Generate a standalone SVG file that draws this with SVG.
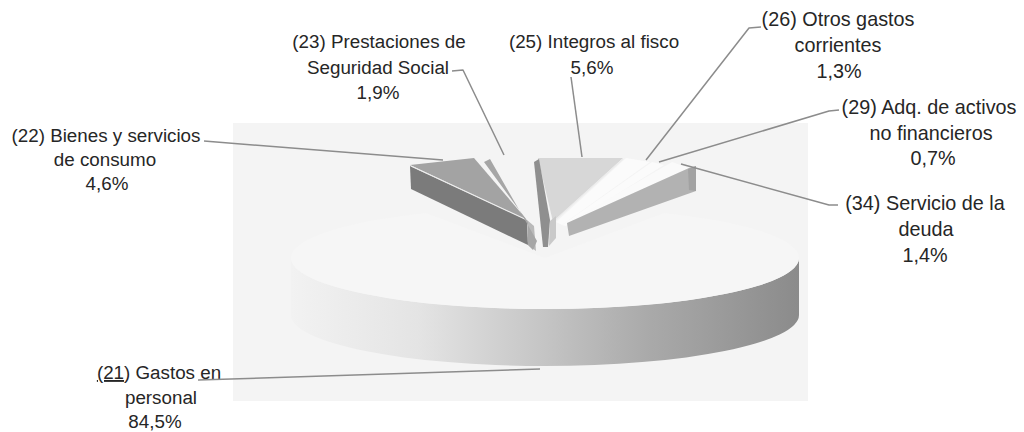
<svg xmlns="http://www.w3.org/2000/svg" width="1024" height="432" viewBox="0 0 1024 432">
  <defs>
    <style>
      .lbl { font-family: "Liberation Sans", Arial, sans-serif; font-size: 18.8px; fill: #262626; text-anchor: middle; }
      .lblr { font-size: 19.8px; }
      .leader { fill: none; stroke: #8c8c8c; stroke-width: 1.5; stroke-linejoin: round; }
      .hl { fill: none; stroke: #ececec; stroke-width: 1.2; }
    </style>
    <linearGradient id="sideGrad" x1="291" y1="0" x2="799" y2="0" gradientUnits="userSpaceOnUse">
      <stop offset="0" stop-color="#f2f2f2"/>
      <stop offset="0.25" stop-color="#e4e4e4"/>
      <stop offset="0.45" stop-color="#cbcbcb"/>
      <stop offset="0.7" stop-color="#aaaaaa"/>
      <stop offset="1" stop-color="#8b8b8b"/>
    </linearGradient>
  </defs>
  <rect width="1024" height="432" fill="#ffffff"/>
  <rect id="plot-area" x="233" y="123" width="575" height="278" fill="#f4f4f4"/>

  <g id="slice-21">
    <path d="M291,258 A254 51 0 0 0 799,258 L799,315 A254 51 0 0 1 291,315 Z" fill="url(#sideGrad)"/>
    <path d="M545,258 L664,213 A254 51 0 1 1 426,213 Z" fill="#f6f6f6"/>
    <text class="lbl" x="159" y="379"><tspan text-decoration="underline">(21</tspan>) Gastos en</text>
    <text class="lbl" x="161" y="404">personal</text>
    <text class="lbl" x="155" y="428">84,5%</text>
  </g>

  <g id="slice-22">
    <path d="M410,165 L474,158 L527,220 Z" fill="#a3a3a3"/>
    <path d="M410,166 L527,220 L528,245 L411,189 Z" fill="#7b7b7b"/>
    <path class="hl" d="M411,166 L527,220"/>
    <path d="M527,220 L534,226 L536,251 L528,245 Z" fill="#b9b9b9"/>
    <text class="lbl" x="106" y="142">(22) Bienes y servicios</text>
    <text class="lbl" x="105" y="166">de consumo</text>
    <text class="lbl" x="107" y="190">4,6%</text>
  </g>

  <g id="slice-23">
    <path d="M484,162 L490,159 L537,241 L533,250 L528,245 L528,222 Z" fill="#a6a6a6"/>
    <text class="lbl" x="379" y="48">(23) Prestaciones de</text>
    <text class="lbl" x="378" y="74">Seguridad Social</text>
    <text class="lbl" x="378" y="99">1,9%</text>
  </g>

  <g id="slice-25">
    <path d="M538,158 L623,158 L553,222 Z" fill="#d7d7d7"/>
    <path class="hl" d="M623,159 L553,222" stroke="#f6f6f6"/>
    <path d="M534,162 L539,159 L550,220 L548,247 L543,247 Z" fill="#8f8f8f"/>
    <path d="M550,221 L556,216 L556,238 L549,246 Z" fill="#c9c9c9"/>
    <text class="lbl" x="594" y="48">(25) Integros al fisco</text>
    <text class="lbl" x="592" y="74">5,6%</text>
  </g>

  <g id="slice-26">
    <path d="M626,158 L650,162 L562,225 L556,222 Z" fill="#fbfbfb"/>
    <text class="lbl lblr" x="838" y="26">(26) Otros gastos</text>
    <text class="lbl lblr" x="838" y="52">corrientes</text>
    <text class="lbl lblr" x="839" y="78">1,3%</text>
  </g>

  <g id="slice-29">
    <path d="M652,162 L664,165 L566,226 L562,225 Z" fill="#fbfbfb"/>
    <text class="lbl lblr" x="929" y="114">(29) Adq. de activos</text>
    <text class="lbl lblr" x="931" y="140">no financieros</text>
    <text class="lbl lblr" x="933" y="165">0,7%</text>
  </g>

  <g id="slice-34">
    <path d="M567,223 L672,162 L689,168 Z" fill="#fafafa"/>
    <path d="M567,223 L689,168 L696,166 L696,191 L569,236 Z" fill="#b2b2b2"/>
    <path d="M688,169 L696,166 L696,191 L689,190 Z" fill="#a2a2a2"/>
    <text class="lbl lblr" x="925" y="210">(34) Servicio de la</text>
    <text class="lbl lblr" x="926" y="236">deuda</text>
    <text class="lbl lblr" x="925" y="262">1,4%</text>
  </g>

  <g id="connectors">
    <path class="leader" d="M204,141 L443,160"/>
    <path class="leader" d="M452,71 L463,70 L504,155"/>
    <path class="leader" d="M571,77 L582,157"/>
    <path class="leader" d="M761,27 L749,28 L646,160"/>
    <path class="leader" d="M839,110 L829,111 L659,162"/>
    <path class="leader" d="M838,205 L829,205 L681,164"/>
    <path class="leader" d="M198,380 L540,369"/>
  </g>
</svg>
